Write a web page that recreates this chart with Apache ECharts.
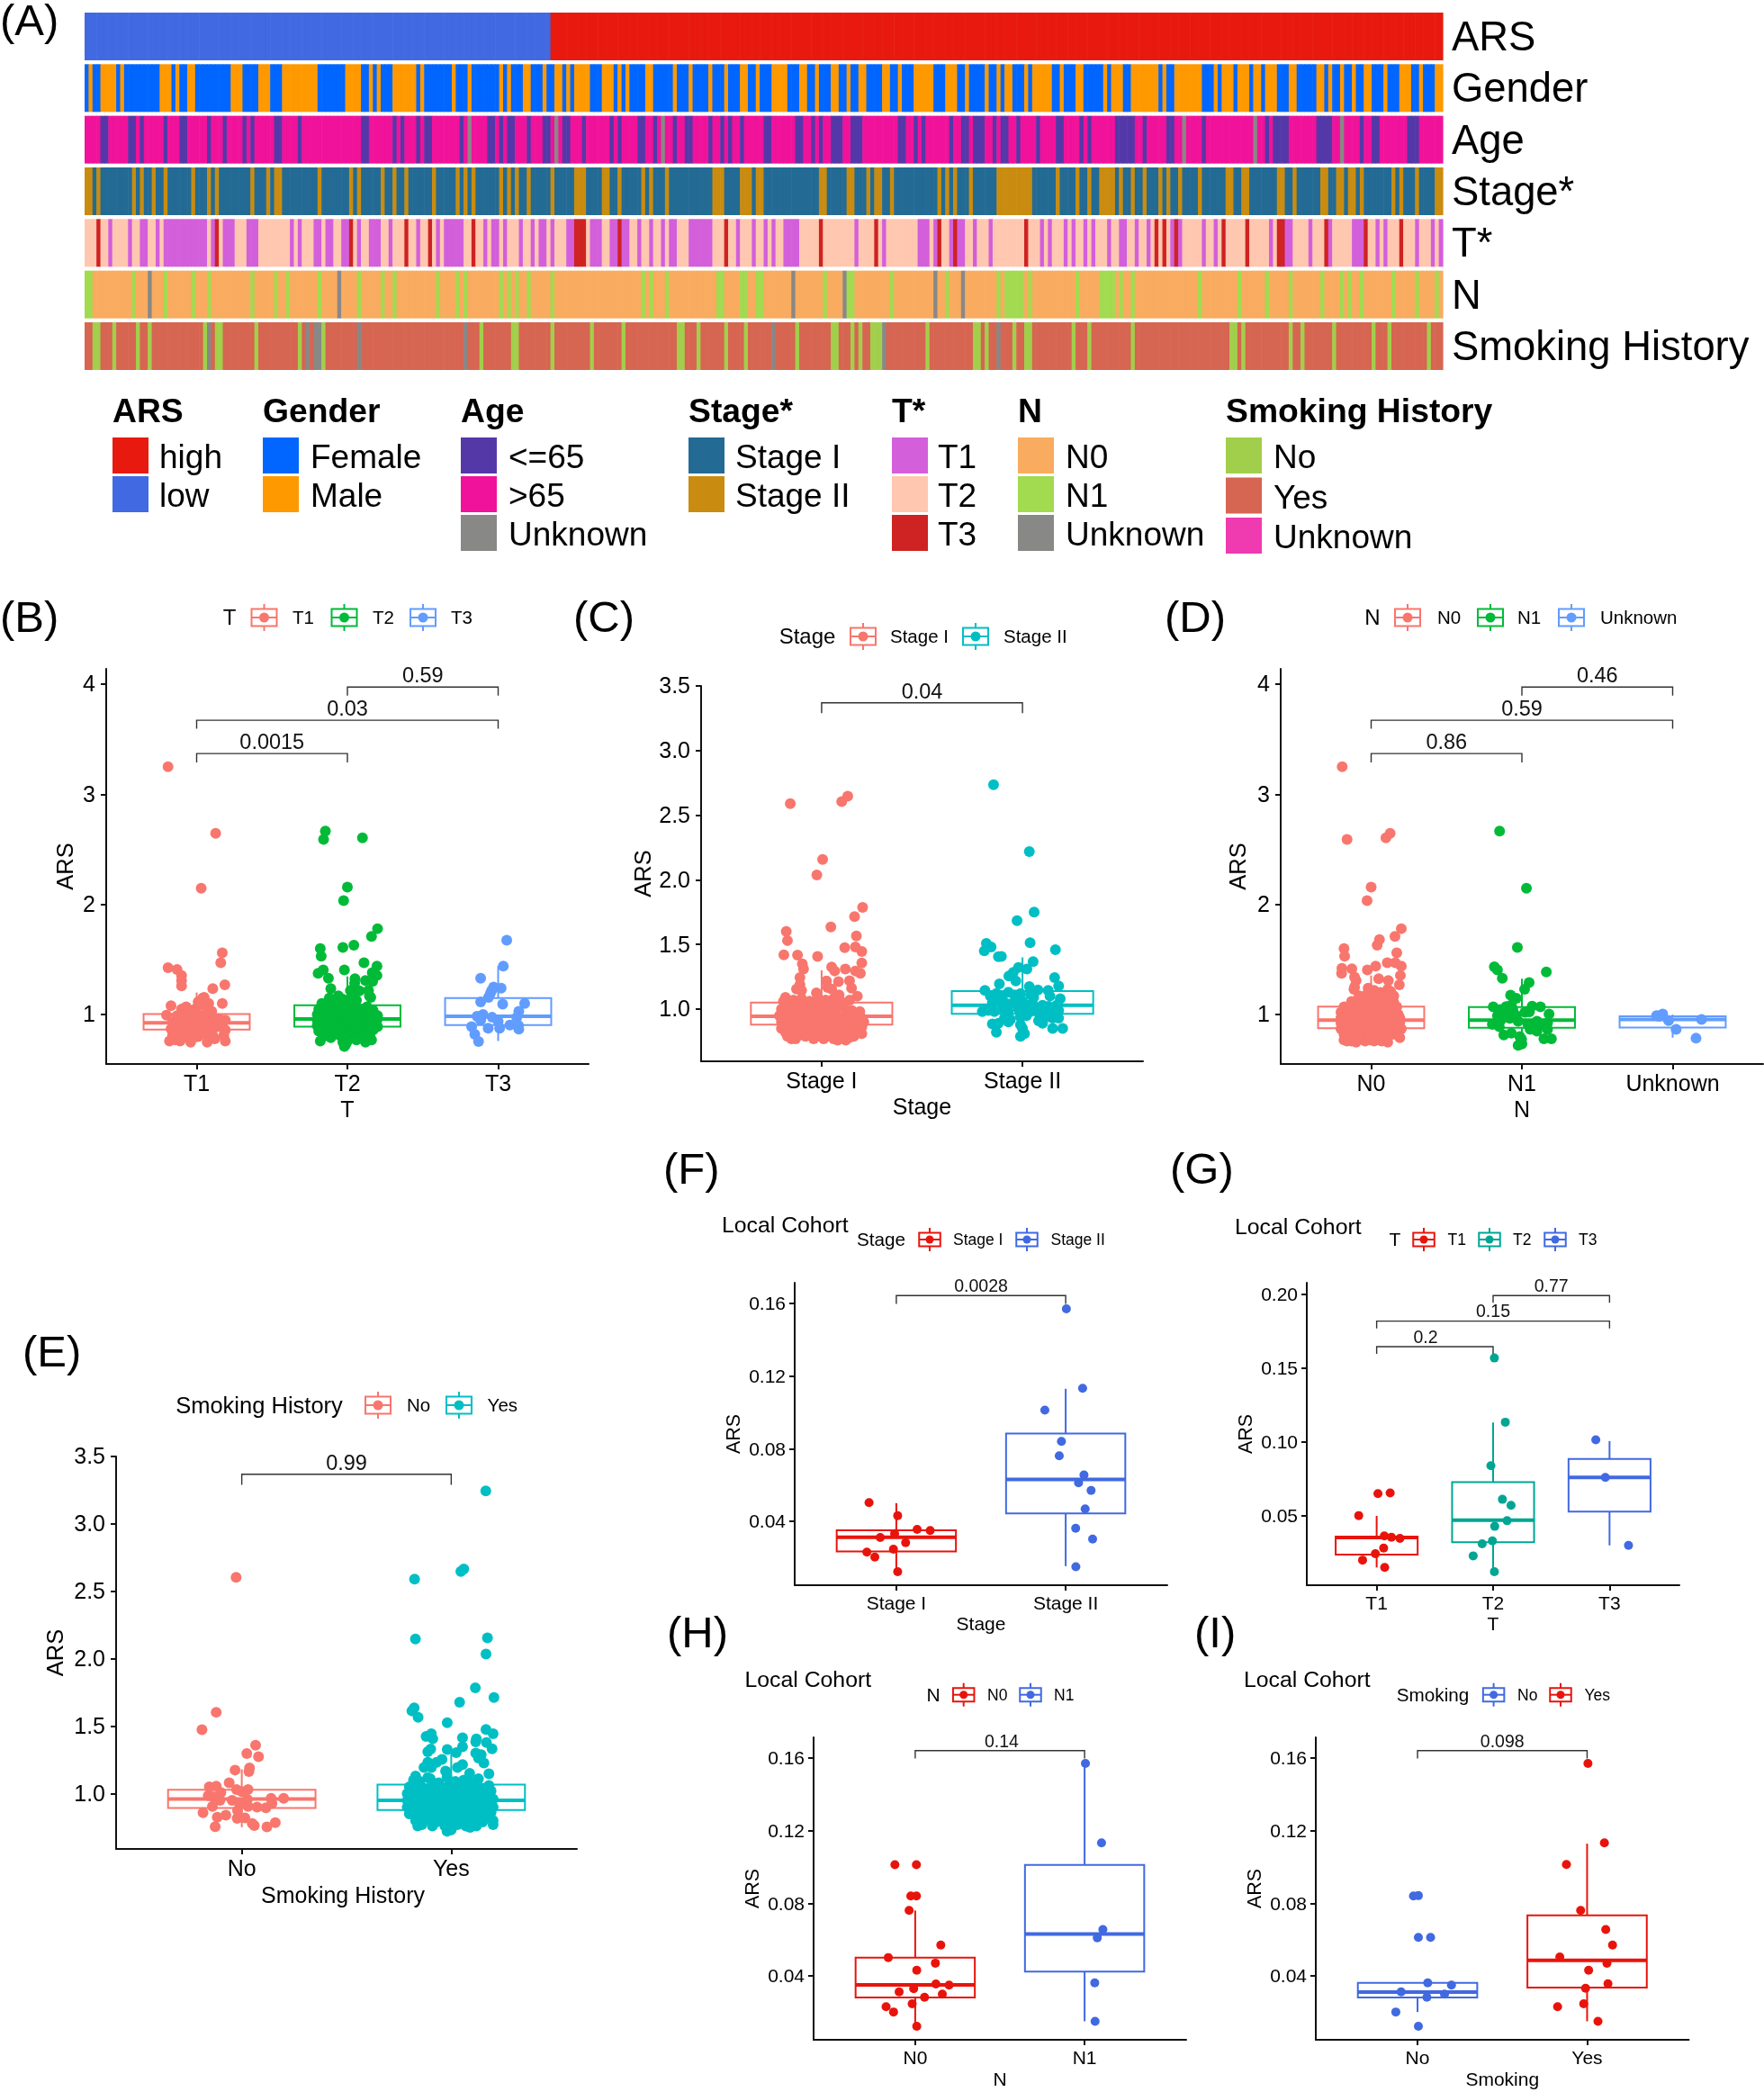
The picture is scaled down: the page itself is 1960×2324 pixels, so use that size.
<!DOCTYPE html>
<html><head><meta charset="utf-8"><title>ARS</title>
<style>html,body{margin:0;padding:0;background:#fff}#c{width:1960px;height:2324px}</style>
<script src="https://cdn.jsdelivr.net/npm/echarts@6/dist/echarts.min.js"></script></head>
<body><div id="c"></div><script>
// ---------- heatmap tracks: [first sample, run length] of each non-default class
const sampleCount = 344;
const trackNames = ['ARS','Gender','Age','Stage*','T*','N','Smoking History'];
const arsHigh = [[118,226]];
const genderMale = [[1,1],[4,4],[9,1],[19,3],[23,1],[26,2],[37,3],[44,3],[50,9],[66,4],[72,1],[74,1],[78,6],[85,1],[93,1],[97,1],[105,1],[107,1],[111,2],[116,1],[119,2],[122,1],[124,4],[131,3],[135,1],[137,1],[142,2],[149,1],[153,1],[158,1],[162,1],[166,2],[170,1],[174,4],[181,2],[185,1],[189,2],[193,1],[196,2],[202,2],[206,1],[210,5],[218,3],[223,1],[228,1],[231,1],[233,2],[238,1],[240,5],[247,1],[251,2],[258,1],[260,3],[265,7],[273,1],[276,7],[286,1],[288,3],[292,3],[296,2],[299,3],[305,2],[312,2],[315,1],[318,1],[321,1],[324,2],[329,1],[333,3],[338,1],[342,2]];
const ageYoung = [[4,2],[11,2],[14,1],[20,1],[24,2],[31,1],[35,1],[40,1],[42,1],[48,2],[54,1],[70,2],[78,1],[80,1],[84,1],[86,2],[95,1],[102,2],[105,1],[107,2],[112,1],[116,2],[121,2],[126,1],[133,1],[135,1],[140,2],[144,1],[149,1],[152,2],[158,1],[161,1],[163,1],[166,1],[172,2],[180,2],[184,1],[186,1],[189,3],[194,3],[206,2],[210,1],[212,1],[219,1],[222,2],[225,3],[230,1],[232,2],[236,1],[241,1],[246,2],[252,1],[254,1],[261,5],[268,1],[274,2],[283,1],[299,1],[301,4],[312,4],[323,1],[326,2],[335,3]];
const ageUnknown = [[97,1],[119,1],[146,1],[278,1],[296,1],[318,1]];
const stageTwo = [[0,2],[3,1],[12,1],[14,1],[17,1],[20,1],[27,1],[31,1],[33,1],[42,1],[46,1],[48,2],[59,1],[67,1],[69,1],[75,1],[78,1],[81,1],[88,1],[94,1],[96,1],[98,1],[105,1],[107,1],[109,1],[112,1],[118,1],[124,3],[131,2],[135,1],[141,1],[143,1],[147,1],[159,3],[166,3],[170,2],[186,2],[193,2],[198,1],[200,2],[204,1],[216,1],[218,1],[220,1],[224,1],[231,9],[246,1],[251,1],[254,1],[257,4],[262,1],[265,1],[268,1],[272,1],[274,1],[277,1],[282,1],[289,2],[293,2],[302,2],[306,1],[313,2],[317,2],[320,2],[323,1],[331,1],[333,1],[337,1],[342,2]];
const tOne = [[6,1],[11,1],[14,2],[18,1],[20,11],[32,1],[35,3],[41,3],[52,1],[54,1],[58,2],[61,2],[65,2],[69,1],[72,3],[77,1],[84,1],[89,1],[91,5],[101,1],[103,2],[106,1],[110,1],[113,1],[115,2],[118,1],[122,2],[128,3],[133,2],[136,2],[140,1],[143,1],[146,1],[148,2],[153,6],[165,1],[169,1],[172,1],[174,1],[177,4],[195,1],[202,1],[211,3],[215,1],[219,1],[221,2],[225,1],[229,1],[242,1],[244,1],[248,1],[250,1],[253,1],[255,1],[259,1],[262,2],[266,1],[269,1],[275,1],[277,1],[283,1],[286,1],[300,1],[304,2],[310,1],[315,1],[321,3],[327,1],[329,1],[337,1],[341,1],[343,1]];
const tThree = [[3,1],[33,1],[67,1],[81,1],[87,1],[98,1],[124,3],[135,1],[162,1],[186,1],[200,1],[216,1],[220,1],[238,1],[271,1],[273,1],[276,1],[288,1],[294,1],[302,2],[314,1],[324,1],[333,1]];
const nOne = [[0,2],[12,1],[20,1],[27,1],[31,1],[42,1],[48,1],[51,1],[59,1],[69,1],[75,1],[78,1],[89,1],[94,1],[96,1],[105,1],[107,1],[109,1],[112,1],[118,1],[141,1],[143,1],[147,1],[160,2],[166,2],[170,2],[187,1],[193,2],[204,1],[218,1],[231,1],[233,5],[239,1],[251,1],[257,4],[262,1],[265,1],[282,1],[292,1],[299,1],[305,1],[313,1],[318,1],[320,1],[323,1],[331,1],[337,1],[342,1]];
const nUnknown = [[16,1],[64,1],[179,1],[192,1],[215,1],[222,1]];
const smokingNo = [[2,2],[7,1],[13,1],[16,1],[30,1],[33,2],[43,1],[54,1],[60,1],[100,1],[108,2],[118,1],[128,1],[136,1],[150,2],[155,1],[162,1],[167,1],[180,1],[189,2],[194,1],[196,1],[199,3],[213,1],[225,2],[228,1],[235,1],[238,2],[250,1],[254,1],[265,1],[290,2],[293,1],[305,1],[308,1],[316,1],[326,1],[330,1],[340,1]];
const smokingGrey = [[31,1],[56,1],[58,2],[69,1],[96,1],[174,1],[202,1],[231,1]];

// ---------- annotation legend
const legendArs = ['high','low'];
const legendGender = ['Female','Male'];
const legendAge = ['<=65','>65','Unknown'];
const legendStage = ['Stage I','Stage II'];
const legendT = ['T1','T2','T3'];
const legendN = ['N0','N1','Unknown'];
const legendSmoking = ['No','Yes','Unknown'];

// ---------- jittered points: [offset from category centre, ARS]
const bT1 = [[-.19,3.25],[.126,2.645],[.03,2.146],[.17,1.56],[.16,1.47],[-.19,1.425],[-.13,1.41],[-.1,1.355],[-.1,1.31],[-.1,1.26],[.187,1.27],[.107,1.235],[.17,1.1],[-.17,1.08],[.04,1.15],[.05,1.155],[.01,1.115],[.08,1.1],[-.2,.995],
[-.1,1.05],[-.07,1.07],[-.03,1.04],[0,1.06],[.03,1.09],[.07,1.05],[.1,1.03],[-.13,.99],[-.09,1],[-.05,.98],[-.01,1.01],[.03,.99],[.07,1],[.11,.97],[.15,.96],[-.16,.93],[-.12,.94],[-.08,.92],[-.04,.95],[0,.93],[.04,.92],[.08,.94],[.12,.93],[.16,.91],[.19,.95],[-.17,.87],[-.13,.88],[-.09,.86],[-.05,.89],[-.01,.87],[.03,.86],[.07,.88],[.11,.87],[.15,.89],[.19,.86],[-.16,.81],[-.11,.83],[-.07,.8],[-.03,.82],[.01,.8],[.06,.82],[.11,.8],[.18,.81],[-.18,.76],[-.14,.77],[-.11,.76],[-.04,.75],[.07,.75],[.12,.78],[.19,.76]];
const bT2 = [[-.146,2.665],[-.158,2.59],[.1,2.605],[0,2.157],[-.025,2.035],[.2,1.78],[.16,1.71],[.043,1.63],[-.03,1.61],[-.18,1.6],[-.174,1.53],[.11,1.47],[.196,1.44],[-.02,1.405],[-.16,1.405],[-.194,1.375],[.165,1.38],[.196,1.355],[-.126,1.33],[.05,1.325],[.12,1.31],[.167,1.3],[.048,1.285],[-.11,1.235],[.02,1.22],[.08,1.215],[.14,1.22],[.146,1.17],[.155,1.155],
[-.12,1.15],[-.06,1.17],[-.03,1.14],[.03,1.16],[.06,1.13],[-.17,1.1],[-.13,1.11],[-.09,1.09],[-.05,1.12],[-.01,1.1],[.03,1.09],[-.19,1.05],[-.15,1.06],[-.11,1.04],[-.07,1.05],[-.03,1.07],[.01,1.04],[.05,1.06],[.09,1.05],[.13,1.07],[.17,1.04],
[-.2,1],[-.16,1.01],[-.12,.99],[-.08,1.02],[-.04,1],[0,.99],[.04,1.01],[.08,1],[.12,.98],[.16,1.01],[.2,.99],[-.2,.95],[-.16,.94],[-.12,.96],[-.08,.95],[-.04,.93],[0,.96],[.04,.95],[.08,.94],[.12,.96],[.16,.95],[.2,.96],[-.2,.9],[-.16,.91],[-.12,.89],[-.08,.9],[-.04,.91],[0,.89],[.04,.9],[.08,.91],[.12,.89],[.16,.9],[.2,.89],[-.19,.85],[-.15,.86],[-.11,.84],[-.07,.85],[-.03,.86],[.01,.84],[.05,.85],[.09,.83],[.13,.85],[.17,.86],[-.16,.8],[-.11,.79],[-.05,.81],[.02,.8],[.06,.79],[.11,.81],[.15,.8],[-.18,.76],[-.03,.75],[0,.76],[.06,.77],[.12,.75],[.16,.77],[-.02,.71],[-.01,.73]];
const bT3 = [[.057,1.675],[.034,1.44],[-.116,1.33],[.02,1.24],[-.03,1.25],[-.043,1.22],[-.052,1.19],[-.064,1.155],[-.116,1.115],[.03,1.095],[.176,1.1],[.137,1.03],[-.1,1],[-.14,.985],[-.04,.975],[-.116,.95],[0,.94],[.123,.973],[.078,.905],[-.176,.89],[-.066,.875],[.01,.875],[.137,.867],[-.155,.82],[-.13,.755],[.135,.9]];
const cStage1 = [[-.156,2.59],[.1,2.605],[.13,2.647],[.005,2.158],[-.024,2.037],[.204,1.787],[.164,1.715],[.046,1.636],[-.176,1.6],[-.17,1.53],[.173,1.566],[.115,1.476],[.168,1.48],[.2,1.445],[-.188,1.42],[-.12,1.418],[-.02,1.408],[-.096,1.35],[-.09,1.31],[.05,1.325],[.065,1.295],[.118,1.31],[.2,1.357],[.168,1.295],[.193,1.276],[-.108,1.244],[-.108,1.19],[.024,1.218],[.084,1.213],[.139,1.22],[.149,1.162],[-.125,1.155],[-.1,1.144],[-.026,1.125],[.03,1.167],[.05,1.155],[.178,1.1],[.087,1.11],
[-.18,1.09],[-.14,1.07],[-.1,1.08],[-.06,1.06],[-.02,1.09],[.02,1.07],[.06,1.08],[.1,1.05],[.14,1.07],[-.2,1],[-.17,1.03],[-.13,1.02],[-.09,1],[-.05,1.03],[-.01,1.01],[.03,1.03],[.07,1],[.11,1.02],[.15,.99],[.19,.98],[-.21,.95],[-.17,.96],[-.13,.94],[-.09,.97],[-.05,.95],[-.01,.96],[.03,.94],[.07,.96],[.11,.95],[.15,.94],[.19,.96],[-.2,.9],[-.16,.91],[-.12,.89],[-.08,.92],[-.04,.9],[0,.91],[.04,.89],[.08,.91],[.12,.9],[.16,.89],[.21,.9],[-.2,.85],[-.16,.86],[-.12,.84],[-.08,.87],[-.04,.85],[0,.83],[.04,.86],[.08,.84],[.12,.87],[.16,.85],[.2,.86],[-.17,.79],[-.15,.77],[-.11,.8],[-.04,.77],[.01,.77],[.06,.77],[.08,.76],[.12,.76],[.16,.79],[.2,.81],
[-.19,1.06],[-.11,1.04],[-.07,.99],[-.03,1.05],[.05,1.05],[.09,1.07],[-.18,.98],[-.15,.99],[-.11,.98],[-.03,.98],[.01,.98],[.05,.99],[.13,.97],[.17,.96],[-.19,.93],[-.15,.92],[-.07,.93],[-.03,.92],[.02,.92],[.09,.93],[.13,.92],[.18,.93],[-.18,.87],[-.14,.88],[-.1,.86],[-.06,.88],[-.02,.87],[.02,.88],[.06,.87],[.1,.87],[.14,.88],[.19,.88],[-.18,.82],[-.14,.82],[-.09,.83],[-.05,.81],[-.01,.8],[.03,.82],[.07,.81],[.11,.82],[.15,.82],[.19,.83],[-.13,.77],[-.08,.79],[-.02,.79],[.03,.79],[.1,.79],[.14,.78]];
const cStage2 = [[-.144,2.735],[.034,2.218],[.058,1.75],[-.027,1.684],[-.18,1.508],[-.156,1.48],[-.19,1.45],[.038,1.513],[.164,1.46],[-.12,1.406],[-.105,1.408],[.053,1.367],[-.02,1.322],[.022,1.31],[-.046,1.283],[-.068,1.255],[-.033,1.218],[.16,1.244],[-.115,1.195],[.18,1.18],[.034,1.174],[.077,1.148],[.128,1.144],[.137,1.1],[-.187,1.144],[.04,1.11],[.056,1.09],[.188,1.08],
[-.16,1.1],[-.13,1.12],[-.1,1.1],[-.07,1.13],[-.04,1.11],[-.01,1.12],[-.15,1.05],[-.12,1.06],[-.09,1.05],[-.06,1.04],[-.03,1.08],[0,1.06],[.03,1.03],[.06,1.02],[.1,1.03],[.13,1.02],[.17,1.03],[-.2,.98],[-.17,.99],[-.14,.98],[-.1,1],[-.07,.98],[-.02,1],[.01,.99],[.04,.98],[.08,.97],[.11,.98],[.14,.97],[.18,.99],[-.09,.93],[-.06,.92],[-.01,.94],[.02,.95],[.08,.91],[.12,.94],[.16,.94],[.18,.93],[-.15,.885],[-.12,.89],[-.07,.9],[-.01,.88],[0,.85],[.1,.89],[.15,.93],[.15,.85],[.2,.85],[-.13,.82],[-.01,.79],[.01,.81]];
const dN0 = [[-.192,3.25],[-.16,2.59],[.098,2.605],[.126,2.645],[0,2.157],[-.027,2.035],[.2,1.78],[.158,1.71],[.055,1.68],[.04,1.63],[.17,1.56],[-.18,1.6],[-.176,1.53],[.107,1.47],[.16,1.47],[.2,1.44],[.03,1.44],[-.194,1.42],[-.196,1.375],[-.128,1.415],[-.025,1.405],[.194,1.355],[-.11,1.34],[-.1,1.31],[.05,1.325],[.114,1.31],[.187,1.27],[-.11,1.25],[-.114,1.23],
[-.02,1.24],[.02,1.22],[.06,1.2],[.11,1.23],[.13,1.21],[-.08,1.17],[-.03,1.18],[.02,1.16],[.07,1.18],[.13,1.15],[.15,1.17],[-.13,1.12],[-.09,1.13],[-.05,1.11],[-.01,1.13],[.03,1.12],[.07,1.1],[.11,1.13],[.15,1.11],[-.18,1.07],[-.14,1.08],[-.1,1.06],[-.06,1.08],[-.02,1.05],[.02,1.07],[.06,1.06],[.1,1.08],[.14,1.05],[.17,1.07],
[-.2,1.02],[-.16,1.01],[-.12,1.03],[-.08,1],[-.04,1.02],[0,1.01],[.04,1.03],[.08,1],[.12,1.02],[.18,1],[-.2,.97],[-.16,.96],[-.12,.98],[-.08,.95],[-.04,.97],[0,.96],[.04,.98],[.08,.95],[.12,.97],[.16,.96],[.19,.97],[-.2,.92],[-.16,.91],[-.12,.93],[-.08,.9],[-.04,.92],[0,.91],[.04,.93],[.08,.9],[.12,.92],[.16,.91],[.19,.93],[-.2,.87],[-.16,.86],[-.12,.88],[-.08,.85],[-.04,.87],[0,.86],[.04,.88],[.08,.85],[.12,.87],[.16,.86],[.2,.87],[-.18,.82],[-.14,.83],[-.1,.81],[-.06,.83],[-.02,.82],[.02,.81],[.06,.83],[.1,.8],[.14,.82],[.18,.81],[.19,.79],[-.18,.77],[-.16,.76],[-.13,.76],[-.1,.75],[-.04,.76],[-.01,.77],[.02,.76],[.05,.77],[.07,.76],[.11,.75]];
const dN1 = [[-.148,2.665],[.03,2.146],[-.03,1.61],[-.183,1.433],[-.162,1.405],[.162,1.386],[-.13,1.33],[.048,1.29],[.018,1.23],[-.075,1.177],[-.037,1.147],[-.19,1.07],[-.105,1.073],[-.07,1.087],[.068,1.076],[.123,1.07],[.18,1.005],[.05,1.025],[-.144,1.046],[-.06,1.046],[-.162,.99],[-.105,1.01],[-.037,.99],[.02,1.02],[-.08,.965],[-.14,.95],[-.196,.91],[-.15,.89],[-.025,.94],[.04,.91],[.1,.94],[.11,.895],[.17,.925],[.17,.865],[.055,.865],[.1,.85],[-.12,.815],[-.07,.83],[-.014,.8],[-.002,.775],[.146,.78],[.196,.78],[-.025,.72],[0,.733]];
const dUnknown = [[-.107,.99],[-.066,1.005],[-.027,.945],[.192,.955],[.023,.865],[.155,.785],[-.09,.985]];
const eNo = [[-.027,2.604],[-.122,1.603],[-.19,1.473],[.066,1.358],[.024,1.296],[.08,1.273],[-.032,1.174],[.037,1.19],[.034,1.163],[-.06,1.08],[-.155,1.05],[-.122,1.054],[.03,1.03],[-.025,1.03],[0,1.015],[-.16,.985],[-.1,1.008],[-.136,.977],[-.104,.95],[-.14,.905],[-.046,.95],[.027,.957],[.14,.964],[.2,.964],[-.012,.93],[.03,.905],[.073,.9],[.115,.895],[.144,.926],[-.185,.857],[-.02,.875],[-.117,.824],[-.076,.84],[-.022,.816],[.015,.82],[.05,.778],[.06,.762],[-.127,.755],[.12,.752],[.16,.785]];
const eYes = [[.165,3.245],[.06,2.665],[.046,2.647],[-.175,2.59],[-.171,2.147],[.173,2.155],[.166,2.034],[.115,1.784],[.204,1.713],[.04,1.677],[-.177,1.636],[-.188,1.613],[-.158,1.565],[-.019,1.526],[.166,1.475],[.2,1.444],[-.095,1.444],[-.12,1.424],[-.088,1.406],[.054,1.414],[.12,1.406],[.117,1.383],[.168,1.378],[.195,1.332],[.054,1.347],[-.019,1.327],[-.098,1.33],[-.112,1.31],[.024,1.304],[.117,1.3],[.143,1.288],[.13,1.263],[-.044,1.253],[-.07,1.232],[-.112,1.232],[.156,1.227],[.054,1.215],[-.13,1.194],[-.095,1.194],[.03,1.194],[.18,1.146],[.088,1.15],[-.027,1.166],[-.17,1.13],[-.112,1.118],
[-.18,1.1],[-.15,1.09],[-.1,1.11],[-.06,1.08],[-.02,1.12],[.02,1.09],[.06,1.1],[.1,1.08],[.13,1.11],[-.2,1.05],[-.17,1.06],[-.13,1.04],[-.09,1.06],[-.05,1.04],[-.01,1.07],[.03,1.05],[.07,1.03],[.11,1.06],[.15,1.04],[.18,1.06],[-.21,1],[-.17,1.01],[-.13,.99],[-.09,1.02],[-.05,1],[-.01,.99],[.03,1.01],[.07,.98],[.11,1],[.15,.99],[.19,1.02],[-.21,.95],[-.17,.96],[-.13,.94],[-.09,.97],[-.05,.95],[-.01,.94],[.03,.96],[.07,.93],[.11,.95],[.15,.94],[.2,.96],[-.21,.9],[-.17,.91],[-.13,.89],[-.09,.92],[-.05,.9],[-.01,.89],[.03,.91],[.07,.88],[.11,.9],[.15,.89],[.2,.9],[-.2,.85],[-.16,.86],[-.12,.84],[-.08,.87],[-.04,.85],[0,.84],[.04,.86],[.08,.83],[.12,.85],[.16,.84],[.19,.86],[-.17,.8],[-.11,.81],[-.07,.79],[-.02,.8],[.01,.82],[.05,.79],[.1,.81],[.15,.79],[.2,.8],[-.16,.76],[-.14,.77],[-.09,.76],[-.03,.76],[0,.75],[.03,.77],[.07,.76],[.09,.75],[.12,.76],[.2,.77],[-.02,.72],[0,.73],
[-.15,1.02],[-.11,1.01],[-.07,1.03],[-.03,1.02],[.01,1.03],[.05,1.01],[.09,1.02],[.13,1.02],[-.19,.97],[-.15,.98],[-.11,.96],[-.07,.97],[-.03,.98],[.01,.96],[.05,.97],[.09,.96],[.13,.97],[.17,.97],[-.19,.92],[-.15,.93],[-.11,.91],[-.07,.92],[-.03,.93],[.01,.91],[.05,.92],[.09,.91],[.13,.92],[.17,.91],[-.18,.87],[-.14,.88],[-.1,.86],[-.06,.88],[-.02,.87],[.02,.86],[.06,.87],[.1,.86],[.14,.87],[.18,.88],[-.14,.82],[-.09,.83],[-.05,.82],[-.01,.81],[.03,.83],[.07,.82],[.12,.82],[.17,.82]];
const fStage1 = [[-.161,.0503],[.008,.0431],[.123,.0355],[.2,.0349],[-.01,.0332],[-.095,.0311],[.055,.0282],[-.017,.0246],[-.174,.023],[-.127,.0203],[.008,.0122]];
const fStage2 = [[.004,.157],[.1,.1133],[-.123,.1012],[-.025,.084],[-.038,.0761],[.108,.0655],[.076,.0612],[.15,.057],[.115,.0468],[.059,.0362],[.159,.0302],[.06,.015]];
const gT1 = [[.011,.0651],[.116,.0655],[-.154,.0502],[.066,.0364],[.127,.0355],[.2,.0347],[.06,.0282],[-.011,.0243],[-.121,.02],[.069,.015]];
const gT2 = [[.011,.157],[.105,.1135],[-.019,.084],[.08,.0612],[.154,.0571],[.12,.0467],[.014,.0429],[-.006,.0331],[-.094,.0311],[-.171,.0229],[.011,.0121]];
const gT3 = [[-.118,.1015],[-.036,.0761],[.163,.03]];
const hN0 = [[-.12,.1012],[.007,.1012],[-.026,.084],[.007,.084],[-.036,.0761],[.151,.057],[-.159,.0501],[.119,.047],[.009,.0431],[.122,.0355],[.2,.0349],[-.009,.033],[-.095,.0312],[.16,.03],[.055,.0282],[-.018,.0246],[-.172,.023],[-.128,.0201],[.009,.0122]];
const hN1 = [[.005,.157],[.1,.1133],[.108,.0655],[.075,.061],[.06,.0362],[.062,.015]];
const iNo = [[-.024,.084],[.005,.0842],[.005,.0612],[.077,.0612],[.06,.0362],[.2,.0349],[-.097,.0312],[.159,.03],[.055,.0282],[-.128,.0201],[.005,.0122]];
const iYes = [[.005,.157],[.102,.1133],[-.122,.1014],[-.038,.0761],[.11,.0655],[.15,.057],[-.161,.0504],[.117,.047],[.009,.0431],[.123,.0357],[-.009,.0332],[-.02,.0246],[-.174,.023],[.064,.015]];

// ---------- box statistics: [low whisker, Q1, median, Q3, high whisker]
const bBoxes = [[.75,.864,.924,1.005,1.2],[.72,.89,.96,1.085,1.345],[.76,.905,.985,1.15,1.44]];
const cBoxes = [[.76,.88,.945,1.05,1.3],[.79,.963,1.03,1.14,1.4]];
const dBoxes = [[.75,.875,.95,1.073,1.355],[.72,.88,.95,1.068,1.325],[.79,.883,.955,.985,1]];
const eBoxes = [[.75,.893,.96,1.028,1.18],[.72,.878,.95,1.066,1.3]];
const fBoxes = [[.012,.0234,.0312,.035,.05],[.0153,.0443,.063,.0883,.113]];
const gBoxes = [[.015,.0237,.0353,.036,.05],[.012,.0321,.0471,.0728,.1133],[.03,.0529,.0761,.0885,.1007]];
const hBoxes = [[.012,.0281,.035,.0501,.076],[.015,.0423,.063,.1011,.157]];
const iBoxes = [[.0201,.0281,.0311,.0362,.0362],[.015,.0335,.0486,.0733,.1128]];

// ---------- p-value brackets: [left group, right group, height, tip end, label centre]
const bBrackets = [[1,2,3.37,3.29,1.5],[1,3,3.672,3.595,2],[2,3,3.974,3.895,2.5]];
const bPvalues = ['0.0015','0.03','0.59'];
const cBrackets = [[1,2,3.369,3.29,1.5]];
const cPvalues = ['0.04'];
const dBrackets = [[1,2,3.37,3.29,1.5],[1,3,3.672,3.595,2],[2,3,3.974,3.895,2.5]];
const dPvalues = ['0.86','0.59','0.46'];
const eBrackets = [[1,2,3.368,3.29,1.5]];
const ePvalues = ['0.99'];
const fBrackets = [[1,2,.1643,.1597,1.5]];
const fPvalues = ['0.0028'];
const gBrackets = [[1,2,.1647,.1598,1.42],[1,3,.182,.177,2],[2,3,.1993,.1944,2.5]];
const gPvalues = ['0.2','0.15','0.77'];
const hBrackets = [[1,2,.1641,.1597,1.51]];
const hPvalues = ['0.14'];
const iBrackets = [[1,2,.1641,.1597,1.5]];
const iPvalues = ['0.098'];

// ---------- tick values and categories
const ticksInt = [1,2,3,4];
const ticksHalf = [1,1.5,2,2.5,3,3.5];
const ticksLocal4 = [.04,.08,.12,.16];
const ticksLocal5 = [.05,.1,.15,.2];
const catT = ['T1','T2','T3'];
const catStage = ['Stage I','Stage II'];
const catN3 = ['N0','N1','Unknown'];
const catN2 = ['N0','N1'];
const catSmoke = ['No','Yes'];

// ---------- styling and layout
const FONT = '"Liberation Sans", Arial, sans-serif';
const RED='#F8766D', GRN='#00BA38', BLU='#619CFF', CYN='#00BFC4', LRED='#E8140C', LTEAL='#00A693', LBLU='#4169E1';
const GREY='#888886';
const trackColors = [
  ['#4169E1','#E8190F'],
  ['#0066FF','#FF9900'],
  ['#F0129A','#5438A8',GREY],
  ['#236B94','#C98C10'],
  ['#FFC7B0','#D35FDB','#CF2222'],
  ['#F9AB5F','#A2DA50',GREY],
  ['#D66551','#A2CF4B',GREY]
];
function fillTrack(layers){
  const out = new Array(sampleCount).fill(0);
  layers.forEach((runs,k)=>runs.forEach(([s,l])=>{for(let i=s;i<s+l&&i<sampleCount;i++)out[i]=k+1;}));
  return out;
}
const trackValues = [
  fillTrack([arsHigh]), fillTrack([genderMale]), fillTrack([ageYoung,ageUnknown]),
  fillTrack([stageTwo]), fillTrack([tOne,tThree]), fillTrack([nOne,nUnknown]), fillTrack([smokingNo,smokingGrey])
];
const heatData = [];
trackValues.forEach((vals,t)=>vals.forEach((v,i)=>heatData.push([i,t,v])));

const panels = [
 {l:118,r:654,t:743,b:1182,ymin:.551,ymax:4.139,ticks:ticksInt,dig:0,cats:catT,xName:'T',ynGap:31,xnGap:40,pts:[bT1,bT2,bT3],cols:[RED,GRN,BLU],boxes:bBoxes,br:bBrackets,pv:bPvalues,fs:25,ns:25.5,pf:23.5,dot:12,lm:12,
  leg:{y:686,title:'T',tx:255,keys:[293.5,382.5,470],labs:[325,414,501],names:catT}},
 {l:779,r:1270,t:762,b:1179,ymin:.596,ymax:3.5,ticks:ticksHalf,dig:1,cats:catStage,xName:'Stage',ynGap:50,xnGap:40,pts:[cStage1,cStage2],cols:[RED,CYN],boxes:cBoxes,br:cBrackets,pv:cPvalues,fs:25,ns:25.5,pf:23.5,dot:12,lm:12,
  leg:{y:707,title:'Stage',tx:897,keys:[959,1084],labs:[989,1115],names:catStage}},
 {l:1423,r:1959,t:743,b:1182,ymin:.551,ymax:4.139,ticks:ticksInt,dig:0,cats:catN3,xName:'N',ynGap:33,xnGap:40,pts:[dN0,dN1,dUnknown],cols:[RED,GRN,BLU],boxes:dBoxes,br:dBrackets,pv:dPvalues,fs:25,ns:25.5,pf:23.5,dot:12,lm:12,
  leg:{y:686,title:'N',tx:1525,keys:[1564,1656,1746],labs:[1597,1686,1778],names:catN3}},
 {l:129,r:641,t:1618,b:2054,ymin:.589,ymax:3.5,ticks:ticksHalf,dig:1,cats:catSmoke,xName:'Smoking History',namePad:[0,8,0,0],ynGap:53,xnGap:41,pts:[eNo,eYes],cols:[RED,CYN],boxes:eBoxes,br:eBrackets,pv:ePvalues,fs:25,ns:25.5,pf:23.5,dot:12,lm:12,
  leg:{y:1561,title:'Smoking History',tx:288,keys:[420,510],labs:[452,541.6],names:catSmoke}},
 {l:883,r:1297,t:1425,b:1761,ymin:.0048,ymax:.1714,ticks:ticksLocal4,dig:2,cats:catStage,xName:'Stage',ynGap:56,xnGap:34,pts:[fStage1,fStage2],cols:[LRED,LBLU],boxes:fBoxes,br:fBrackets,pv:fPvalues,fs:21,ns:21.5,pf:19.5,dot:10,lm:10,
  leg:{y:1377,title:'Stage',tx:979,keys:[1033,1141],labs:[1059,1167.5],names:catStage,small:true},cohort:[802,1361]},
 {l:1452,r:1866,t:1425,b:1761,ymin:.003,ymax:.208,ticks:ticksLocal5,dig:2,cats:catT,xName:'T',ynGap:56,xnGap:34,pts:[gT1,gT2,gT3],cols:[LRED,LTEAL,LBLU],boxes:gBoxes,br:gBrackets,pv:gPvalues,fs:21,ns:21.5,pf:19.5,dot:10,lm:10,
  leg:{y:1377,title:'T',tx:1550,keys:[1582,1655,1728],labs:[1608.6,1681,1754],names:catT,small:true},cohort:[1372,1363]},
 {l:904,r:1318,t:1930,b:2266,ymin:.0048,ymax:.1714,ticks:ticksLocal4,dig:2,cats:catN2,xName:'N',ynGap:56,xnGap:34.5,pts:[hN0,hN1],cols:[LRED,LBLU],boxes:hBoxes,br:hBrackets,pv:hPvalues,fs:21,ns:21.5,pf:19.5,dot:10,lm:10,
  leg:{y:1882.7,title:'N',tx:1037,keys:[1070.7,1145],labs:[1097,1171],names:catN2,small:true},cohort:[827.5,1866]},
 {l:1462,r:1876.5,t:1930,b:2266,ymin:.0048,ymax:.1714,ticks:ticksLocal4,dig:2,cats:catSmoke,xName:'Smoking',ynGap:56,xnGap:34.5,pts:[iNo,iYes],cols:[LBLU,LRED],boxes:iBoxes,br:iBrackets,pv:iPvalues,fs:21,ns:21.5,pf:19.5,dot:10,lm:10,
  leg:{y:1882.7,title:'Smoking',tx:1592,keys:[1659.6,1734],labs:[1686,1760.5],names:catSmoke,small:true},cohort:[1382,1866]}
];

const grid=[{left:94,top:11.8,width:1509,height:401.4}];
const xAxis=[{gridIndex:0,type:'value',min:0,max:sampleCount,show:false}];
const yAxis=[{gridIndex:0,type:'category',inverse:true,position:'right',data:trackNames,
  axisLine:{show:false},axisTick:{show:false},splitLine:{show:false},
  axisLabel:{interval:0,margin:10,formatter:'{a|{value}}',rich:{a:{fontFamily:FONT,fontSize:45.4,color:'#000',padding:[6,0,0,0]}}}}];
const series=[{type:'custom',name:'Annotation',xAxisIndex:0,yAxisIndex:0,data:heatData,animation:false,progressive:0,
  encode:{x:0,y:1},
  renderItem(p,api){
    const i=api.value(0),t=api.value(1),v=api.value(2);
    const a=api.coord([i,t]),b=api.coord([i+1,t]);
    return {type:'rect',shape:{x:a[0],y:a[1]-26.5,width:b[0]-a[0]+.6,height:53},style:{fill:trackColors[t][v]}};
  }}];

panels.forEach((P,pi)=>{
  const ax=pi+1, n=P.cats.length, fmtY=v=>'{a|'+v.toFixed(P.dig)+'}';
  grid.push({left:P.l,top:P.t,width:P.r-P.l,height:P.b-P.t});
  xAxis.push({gridIndex:ax,type:'value',min:.4,max:n+.6,name:P.xName,nameLocation:'middle',nameGap:P.xnGap,nameMoveOverlap:false,
    nameTextStyle:{fontFamily:FONT,fontSize:P.fs,color:'#000',padding:P.namePad||0},splitLine:{show:false},
    axisLine:{show:true,onZero:false,lineStyle:{color:'#111',width:2}},
    axisTick:{show:true,length:6,lineStyle:{color:'#111',width:2},customValues:P.cats.map((c,i)=>i+1)},
    axisLabel:{show:true,fontFamily:FONT,fontSize:P.fs,color:'#000',margin:10.5,hideOverlap:false,showMinLabel:true,showMaxLabel:true,customValues:P.cats.map((c,i)=>i+1),formatter:v=>P.cats[Math.round(v)-1]}});
  yAxis.push({gridIndex:ax,type:'value',min:P.ymin,max:P.ymax,name:'ARS',nameLocation:'middle',nameRotate:90,nameGap:P.ynGap,nameMoveOverlap:false,
    nameTextStyle:{fontFamily:FONT,fontSize:P.ns,color:'#000'},splitLine:{show:false},
    axisLine:{show:true,onZero:false,lineStyle:{color:'#111',width:2}},
    axisTick:{show:true,length:6,lineStyle:{color:'#111',width:2},customValues:P.ticks},
    axisLabel:{show:true,margin:P.lm,showMinLabel:true,showMaxLabel:true,hideOverlap:false,customValues:P.ticks,formatter:fmtY,rich:{a:{fontFamily:FONT,fontSize:P.fs,color:'#000',padding:[3,0,0,0]}}}});
  P.cats.forEach((c,i)=>{
    const col=P.cols[i];
    series.push({type:'custom',name:c+' box',xAxisIndex:ax,yAxisIndex:ax,z:2,animation:false,
      data:[[i+1,...P.boxes[i]]],encode:{x:0,y:[1,2,3,4,5]},
      renderItem(p,api){
        const x=api.value(0),lo=api.value(1),q1=api.value(2),md=api.value(3),q3=api.value(4),hi=api.value(5);
        const pt=(a,b)=>api.coord([a,b]),w=.352;
        const A=pt(x-w,q3),B=pt(x+w,q1),M1=pt(x-w,md),M2=pt(x+w,md),H=pt(x,hi),L=pt(x,lo);
        const ls={stroke:col,lineWidth:2,fill:null};
        return {type:'group',children:[
          {type:'line',shape:{x1:H[0],y1:H[1],x2:H[0],y2:A[1]},style:ls},
          {type:'line',shape:{x1:L[0],y1:B[1],x2:L[0],y2:L[1]},style:ls},
          {type:'rect',shape:{x:A[0],y:A[1],width:B[0]-A[0],height:B[1]-A[1]},style:ls},
          {type:'line',shape:{x1:M1[0],y1:M1[1],x2:M2[0],y2:M2[1]},style:{stroke:col,lineWidth:4}}
        ]};
      }});
    series.push({type:'scatter',name:c,xAxisIndex:ax,yAxisIndex:ax,z:3,animation:false,symbol:'circle',symbolSize:P.dot,
      itemStyle:{color:col,opacity:1},data:P.pts[i].map(([d,v])=>[i+1+d,v])});
  });
  series.push({type:'custom',name:'p values',xAxisIndex:ax,yAxisIndex:ax,z:4,animation:false,
    data:P.br,encode:{x:[0,1],y:[2,3]},
    renderItem(p,api){
      const a=api.value(0),b=api.value(1),h=api.value(2),tip=api.value(3),lx=api.value(4);
      const A=api.coord([a,h]),B=api.coord([b,h]),At=api.coord([a,tip]),Bt=api.coord([b,tip]),C=api.coord([lx,h]);
      const ls={stroke:'#333',lineWidth:1.4,fill:null};
      return {type:'group',children:[
        {type:'polyline',shape:{points:[At,A,B,Bt]},style:ls},
        {type:'text',x:C[0],y:A[1]+.5,style:{text:P.pv[p.dataIndex],fontFamily:FONT,fontSize:P.pf,fill:'#111',align:'center',verticalAlign:'bottom',textAlign:'center',textVerticalAlign:'bottom'}}
      ]};
    }});
});

// ---------- free text, annotation legend and ggplot-style legend keys
const graphic=[];
function txt(text,x,y,size,opt={}){
  const nudge=opt.noNudge?0:(size>=30?3:1.5);
  graphic.push({type:'text',x,y:y+nudge,silent:true,style:{text,fontFamily:FONT,fontSize:size,fontWeight:opt.bold?'bold':'normal',fill:'#000',
    align:opt.align||'left',textAlign:opt.align||'left',verticalAlign:'middle',textVerticalAlign:'middle'}});
}
[['(A)',0,25],['(B)',0,688],['(C)',637,688],['(D)',1294,688],['(E)',25,1504],['(F)',737,1301],['(G)',1300,1301],['(H)',741,1816],['(I)',1327,1816]]
 .forEach(t=>txt(t[0],t[1],t[2],49,{noNudge:true}));

[
 {head:'ARS',x:125,lx:177,names:legendArs,cols:['#E8190F','#4169E1']},
 {head:'Gender',x:292,lx:345,names:legendGender,cols:['#0066FF','#FF9900']},
 {head:'Age',x:512,lx:565,names:legendAge,cols:['#5438A8','#F0129A',GREY]},
 {head:'Stage*',x:765,lx:817,names:legendStage,cols:['#236B94','#C98C10']},
 {head:'T*',x:991,lx:1042,names:legendT,cols:['#D35FDB','#FFC7B0','#CF2222']},
 {head:'N',x:1131,lx:1184,names:legendN,cols:['#F9AB5F','#A2DA50',GREY]},
 {head:'Smoking History',x:1362,lx:1415,names:legendSmoking,cols:['#A2CF4B','#D66551','#F03AB0'],step:44.5}
].forEach(L=>{
  txt(L.head,L.x,456,37.3,{bold:true});
  const step=L.step||43;
  L.names.forEach((s,i)=>{
    const top=486+i*step;
    graphic.push({type:'rect',silent:true,shape:{x:L.x,y:top,width:40,height:40},style:{fill:L.cols[i]}});
    txt(s,L.lx,top+21,37);
  });
});

panels.forEach(P=>{
  const G=P.leg,w=G.small?23.5:28,h=G.small?15:19,wh=G.small?26:30,r=G.small?4.5:5.5;
  txt(G.title,G.tx,G.y,G.small?(G.title.length>1?20.7:21):(G.title==='Smoking History'?25.5:24),{align:'center'});
  G.names.forEach((s,i)=>{
    const c=P.cols[i],x=G.keys[i],y=G.y,ls={stroke:c,lineWidth:2,fill:null};
    graphic.push({type:'line',silent:true,shape:{x1:x,y1:y-wh/2,x2:x,y2:y+wh/2},style:ls});
    graphic.push({type:'rect',silent:true,shape:{x:x-w/2,y:y-h/2,width:w,height:h},style:{stroke:c,lineWidth:2,fill:'#fff'}});
    graphic.push({type:'line',silent:true,shape:{x1:x-w/2,y1:y,x2:x+w/2,y2:y},style:ls});
    graphic.push({type:'circle',silent:true,shape:{cx:x,cy:y,r},style:{fill:c}});
    txt(s,G.labs[i],y,G.small?17.5:20.5);
  });
  if(P.cohort)txt('Local Cohort',P.cohort[0],P.cohort[1],24.8);
});

const chart=echarts.init(document.getElementById('c'),null,{renderer:'canvas',width:1960,height:2324});
chart.setOption({animation:false,backgroundColor:'#fff',textStyle:{fontFamily:FONT},tooltip:{show:false},legend:{show:false},grid,xAxis,yAxis,series,graphic:{elements:graphic}});
</script></body></html>
